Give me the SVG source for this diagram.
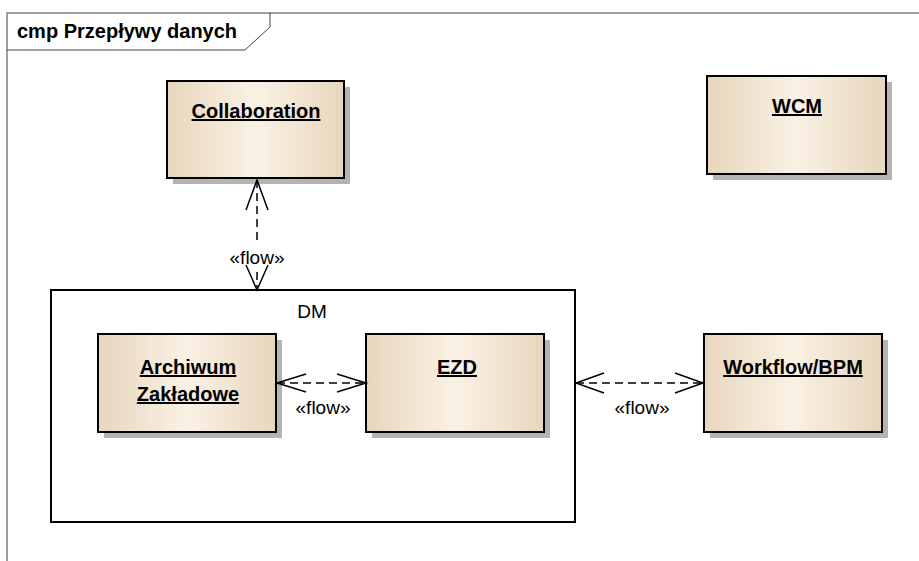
<svg xmlns="http://www.w3.org/2000/svg" width="919" height="561" viewBox="0 0 919 561">
<defs>
<linearGradient id="g" x1="0" y1="0" x2="1" y2="0">
<stop offset="0" stop-color="#e7d6bd"/>
<stop offset="0.5" stop-color="#faf1e5"/>
<stop offset="1" stop-color="#e7d6bd"/>
</linearGradient>
<style>
.box{fill:url(#g);stroke:#000;stroke-width:2}
.sh{fill:#b4b4b4}
.nm{font-family:"Liberation Sans",Arial,sans-serif;font-weight:bold;font-size:20px;text-anchor:middle;text-decoration:underline}
.lb{font-family:"Liberation Sans",Arial,sans-serif;font-size:19px;text-anchor:middle}
.dash{fill:none;stroke:#000;stroke-width:1.5;stroke-dasharray:8 5}
.ah{fill:none;stroke:#000;stroke-width:1.5}
</style>
</defs>
<rect width="919" height="561" fill="#fff"/>
<g id="frame">
<path d="M7 561 V13 H919" fill="none" stroke="#808080" stroke-width="1.5"/>
<path d="M7 50 H245 L270 27 V13" fill="none" stroke="#404040" stroke-width="1"/>
<text x="17" y="38" font-family="Liberation Sans,Arial,sans-serif" font-weight="bold" font-size="20">cmp Przepływy danych</text>
</g>
<g id="DM">
<rect x="51" y="290" width="524" height="232" fill="#fff" stroke="#000" stroke-width="2"/>
<text class="lb" x="312" y="318">DM</text>
</g>
<g id="Collaboration">
<rect class="sh" x="173" y="87" width="177" height="97"/>
<rect class="box" x="167" y="81" width="177" height="97"/>
<text class="nm" x="256" y="118">Collaboration</text>
</g>
<g id="WCM">
<rect class="sh" x="713" y="82" width="179" height="98"/>
<rect class="box" x="707" y="76" width="179" height="98"/>
<text class="nm" x="797" y="113">WCM</text>
</g>
<g id="Archiwum">
<rect class="sh" x="104" y="340" width="178" height="98"/>
<rect class="box" x="98" y="334" width="178" height="98"/>
<text class="nm" x="188" y="374">Archiwum</text>
<text class="nm" x="188" y="401">Zakładowe</text>
</g>
<g id="EZD">
<rect class="sh" x="372" y="340" width="178" height="98"/>
<rect class="box" x="366" y="334" width="178" height="98"/>
<text class="nm" x="457" y="374">EZD</text>
</g>
<g id="Workflow">
<rect class="sh" x="710" y="340" width="178" height="98"/>
<rect class="box" x="704" y="334" width="178" height="98"/>
<text class="nm" x="793" y="374">Workflow/BPM</text>
</g>
<g id="connectors">
<path class="dash" d="M257 180 V240"/>
<path class="ah" d="M246 210 L257 180 L268 210"/>
<path class="dash" d="M257 272 V290"/>
<path class="ah" d="M246 265 L257 290 L268 265"/>
<text class="lb" x="257" y="264">«flow»</text>
<path class="dash" d="M277 383 H365"/>
<path class="ah" d="M306 374 L277 383 L306 392"/>
<path class="ah" d="M337 374 L366 383 L337 392"/>
<text class="lb" x="323" y="414">«flow»</text>
<path class="dash" d="M576 383 H703"/>
<path class="ah" d="M604 373 L576 383 L604 393"/>
<path class="ah" d="M675 373 L703 383 L675 393"/>
<text class="lb" x="642" y="414">«flow»</text>
</g>
</svg>
